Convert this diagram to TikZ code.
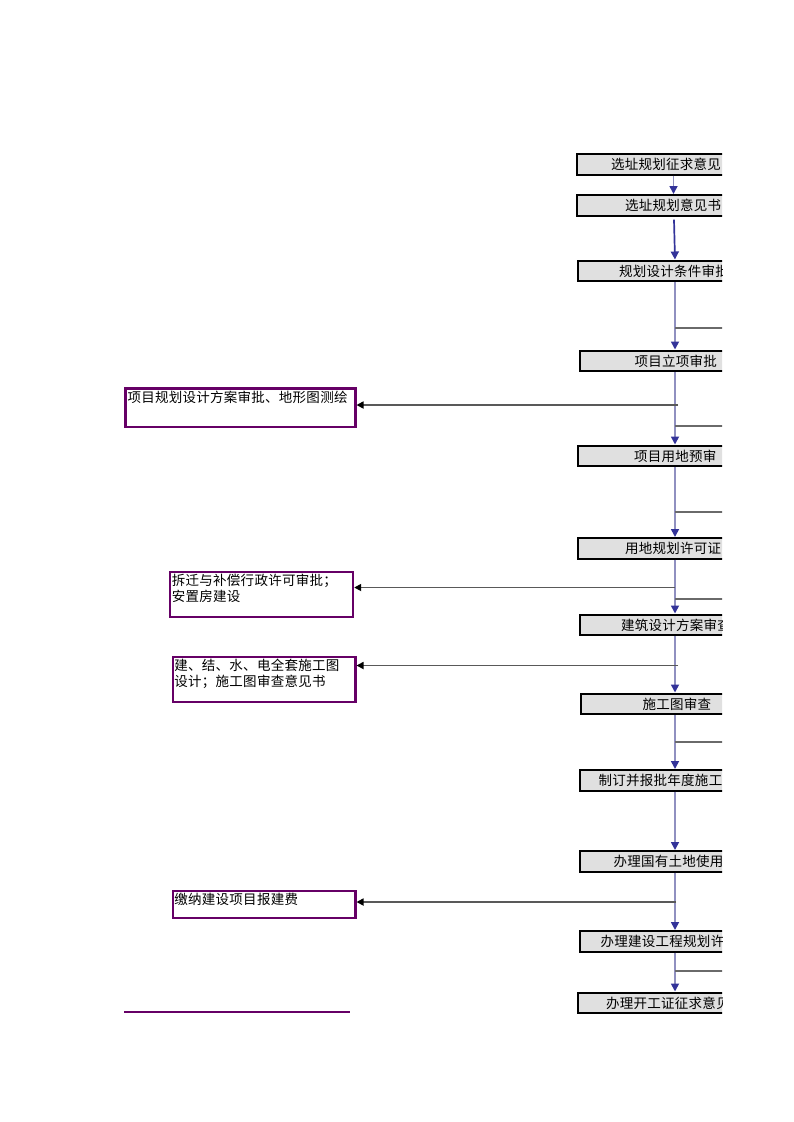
\documentclass[tikz,border=0pt]{standalone}
\usepackage{fontspec}
\newfontfamily\cjk[LetterSpace=2]{Noto Sans CJK SC}
\usetikzlibrary{arrows.meta, positioning}
\definecolor{boxgray}{HTML}{E0E0E0}
\definecolor{spineblue}{HTML}{9090C0}
\definecolor{darkblue}{HTML}{333399}
\definecolor{branchgray}{HTML}{6A6A6A}
\definecolor{notepurple}{HTML}{660066}
\tikzset{
    mainbox/.style={draw=black, line width=2.2pt, fill=boxgray, anchor=north west,
        minimum height=20.5pt, text width=220pt, align=left, inner ysep=0pt,
        font=\cjk\fontsize{13.5}{15}\selectfont},
    notebox/.style={draw=notepurple, line width=2.2pt, anchor=north west, inner sep=0pt},
    notetext/.style={anchor=north west, align=left, inner sep=1pt,
        font=\cjk\fontsize{13.5}{16}\selectfont},
    flow/.style={draw=spineblue, line width=1.7pt, -{Triangle[width=8pt,length=8pt,color=darkblue]}},
    branch/.style={draw=branchgray, line width=1.6pt},
    feed/.style={draw=black!65, line width=1.6pt, -{Triangle[width=7pt,length=7pt,color=black]}}
}

\begin{document}
\begin{tikzpicture}[x=1pt, y=1pt]
    \useasboundingbox (0,0) rectangle (793,-1122);
    \begin{scope}
    \clip (0,0) rectangle (722,-1122);

        %spine x positions
        \coordinate (s1) at (673.5,0);
        \coordinate (s2) at (674,0);
        \coordinate (sp) at (675,0);

        %main column
        \node[mainbox, inner xsep=34pt] (b1) at (576,-153) {选址规划征求意见};
        \node[mainbox, inner xsep=48pt] (b2) at (576,-194) {选址规划意见书};
        \node[mainbox, inner xsep=41pt] (b3) at (577,-259.5) {规划设计条件审批};
        \node[mainbox, inner xsep=55pt] (b4) at (578.5,-349.5) {项目立项审批};
        \node[mainbox, inner xsep=56pt] (b5) at (577,-444.5) {项目用地预审};
        \node[mainbox, inner xsep=47pt] (b6) at (577,-537) {用地规划许可证};
        \node[mainbox, inner xsep=41pt] (b7) at (579,-613.5) {建筑设计方案审查};
        \node[mainbox, inner xsep=62pt] (b8) at (579.5,-692.5) {施工图审查};
        \node[mainbox, inner xsep=19pt] (b9) at (578.5,-769) {制订并报批年度施工};
        \node[mainbox, inner xsep=34pt] (b10) at (578.5,-850) {办理国有土地使用};
        \node[mainbox, inner xsep=21pt] (b11) at (578.5,-930) {办理建设工程规划许};
        \node[mainbox, inner xsep=28pt] (b12) at (577,-991.5) {办理开工证征求意见};

        %arrows down the column
        \draw[flow] (b1.south -| s1) -- (b2.north -| s1);
        \draw[flow, draw=darkblue] ([yshift=-3pt]b2.south -| s2) -- (b3.north -| sp);
        \foreach \a/\b in {b3/b4, b4/b5, b5/b6, b6/b7, b7/b8, b8/b9, b9/b10, b10/b11, b11/b12}
        {
            \draw[flow] (\a.south -| sp) -- (\b.north -| sp);
        }

        %branches to the right
        \foreach \y in {327.7, 425.7, 512, 599, 741.7, 970.7}
        {
            \coordinate (r) at (740,-\y);
            \draw[branch] (sp |- r) -- (r);
        }

        %notes on the left
        \node[notebox, minimum width=230pt, minimum height=38.7pt] (L1) at (124.3,-387.3) {};
        \node[notetext] (L1t) at ([xshift=2pt, yshift=-2.5pt]L1.north west) {项目规划设计方案审批、地形图测绘};
        \node[notebox, minimum width=183.3pt, minimum height=44.7pt] (L2) at (168.7,-571) {};
        \node[notetext] (L2t) at ([xshift=2pt, yshift=-2pt]L2.north west) {拆迁与补偿行政许可审批；\\安置房建设};
        \node[notebox, minimum width=182.6pt, minimum height=44.7pt] (L3) at (171.7,-656) {};
        \node[notetext] (L3t) at ([xshift=1.5pt, yshift=-2pt]L3.north west) {建、结、水、电全套施工图\\设计；施工图审查意见书};
        \node[notebox, minimum width=182.6pt, minimum height=26.7pt] (L4) at (171.7,-890) {};
        \node[notetext] (L4t) at ([xshift=1.5pt, yshift=-2pt]L4.north west) {缴纳建设项目报建费};

        %feeds from the spine to the notes
        \coordinate (f1) at (678,-405);
        \coordinate (f2) at (675,-587.5);
        \coordinate (f3) at (678,-665.5);
        \coordinate (f4) at (676,-902);
        \draw[feed] (f1) -- (f1 -| L1.east);
        \draw[feed] (f2) -- (f2 -| L2.east);
        \draw[feed] (f3) -- (f3 -| L3.east);
        \draw[feed] (f4) -- (f4 -| L4.east);

        %closing rule
        \draw[notepurple, line width=2.2pt] (124,-1011.7) -- (350,-1011.7);
    \end{scope}
\end{tikzpicture}
\end{document}
